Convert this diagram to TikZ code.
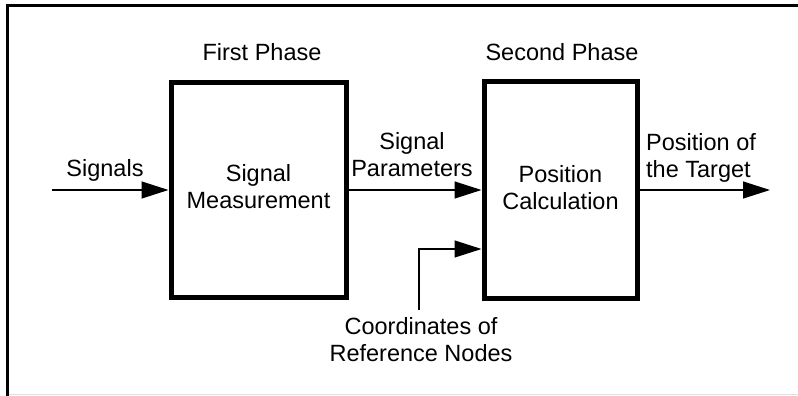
\documentclass[tikz,border=0pt]{standalone}
\usepackage{fontspec}
\setmainfont{Liberation Sans}
\usetikzlibrary{arrows.meta}
\begin{document}
\begin{tikzpicture}[x=1pt,y=1pt,
  lbl/.style={inner sep=0pt,font=\fontsize{23.5}{27}\selectfont,align=center},
  blk/.style={draw,line width=5pt,minimum width=175pt,minimum height=215pt,inner sep=0pt},
  arr/.style={line width=1.2pt,-{Triangle[length=27pt,width=17pt]}}]
\useasboundingbox (0,0) rectangle (798,-396);
% frame
\draw[line width=3pt] (7.5,-396) -- (7.5,-5.5) -- (798,-5.5);
\draw[line width=1pt,black!12] (9,-394.5) -- (798,-394.5);
% blocks
\node[blk] (b1) at (258.5,-190) {};
\node[blk,minimum width=153pt,minimum height=217pt] (b2) at (560.5,-190) {};
\node[lbl] (t1) at (258.5,-187) {Signal\\Measurement};
\node[lbl] (t2) at (560.5,-188) {Position\\Calculation};
% phase titles
\node[lbl,anchor=base] (p1) at (262,-60) {First Phase};
\node[lbl,anchor=base] (p2) at (562,-60) {Second Phase};
% labels
\node[lbl,anchor=base] (sig) at (105,-176) {Signals};
\node[lbl] (par) at (412,-155) {Signal\\Parameters};
\node[lbl,align=left,anchor=west] (pos) at (646,-157.5) {Position of\\the Target};
\node[lbl] (crd) at (421,-340) {Coordinates of\\Reference Nodes};
% connectors
\coordinate (in) at (52,-190);
\coordinate (out) at (770,-190);
\coordinate (kc) at (419,-310);
\coordinate (ky) at (0,-249);
\draw[arr] (in) -- (b1.west);
\draw[arr] (b1.east) -- (b2.west);
\draw[arr] (b2.east) -- (out);
\draw[arr] (kc) |- (b2.west |- ky);
\end{tikzpicture}
\end{document}
